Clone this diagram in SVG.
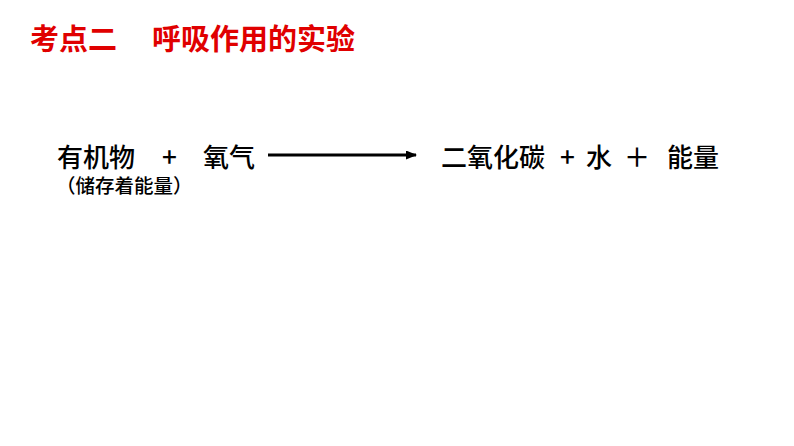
<svg xmlns="http://www.w3.org/2000/svg" width="794" height="446" viewBox="0 0 794 446">
<style>
text{font-family:"Noto Sans CJK SC","Liberation Sans",sans-serif;fill:#000}
.t{fill:#e00000;font-size:29px;font-weight:bold}
.e{font-size:26px;font-weight:500}
.s{font-size:19.5px;font-weight:500}
</style>
<defs><marker id="a" markerWidth="11" markerHeight="9" refX="10" refY="4.5" orient="auto" markerUnits="userSpaceOnUse"><path d="M0,0L11,4.5L0,9z" fill="#000"/></marker></defs>
<rect width="794" height="446" fill="#fff"/>
<g id="title"><text class="t" x="30" y="50">考点二</text><text class="t" x="152" y="50">呼吸作用的实验</text></g>
<g id="reactants"><text class="e" x="57" y="167">有机物</text><text class="e" x="162" y="167">+</text><text class="e" x="203" y="167">氧气</text><text class="s" x="56" y="193">（储存着能量）</text></g>
<g id="connectors"><line x1="268" y1="155" x2="416" y2="155" stroke="#000" stroke-width="3" marker-end="url(#a)"/></g>
<g id="products"><text class="e" x="441" y="167">二氧化碳</text><text class="e" x="560" y="167">+</text><text class="e" x="586" y="167">水</text><text class="e" x="624" y="167">＋</text><text class="e" x="667" y="167">能量</text></g>
</svg>
